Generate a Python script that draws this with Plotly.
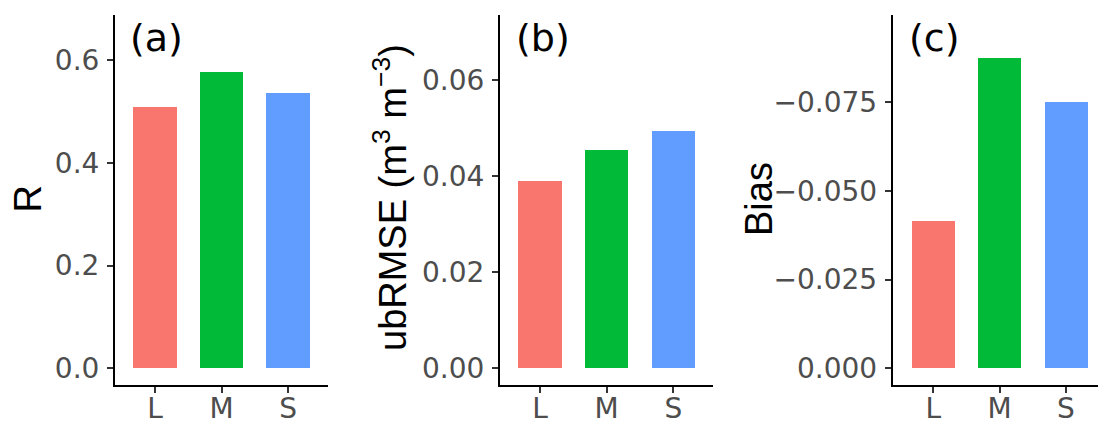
import plotly.graph_objects as go

categories = ["L", "M", "S"]
r_values = [0.509, 0.577, 0.535]
ubrmse_values = [0.0390, 0.0454, 0.0494]
bias_values = [-0.0414, -0.0874, -0.0752]
colors = ["#F8766D", "#00BA38", "#619CFF"]

r_ticks = [0.0, 0.2, 0.4, 0.6]
r_ticklabels = ["0.0", "0.2", "0.4", "0.6"]
ub_ticks = [0.00, 0.02, 0.04, 0.06]
ub_ticklabels = ["0.00", "0.02", "0.04", "0.06"]
bias_ticks = [0.0, -0.025, -0.050, -0.075]
bias_ticklabels = ["0.000", "\u22120.025", "\u22120.050", "\u22120.075"]

W, H = 1098, 424
FONT = "Liberation Sans, Arial, sans-serif"
WIDEFONT = "DejaVu Sans, Liberation Sans, sans-serif"
TICKFONT = dict(family=WIDEFONT, size=28, color="#4D4D4D")

fig = go.Figure()
panels = [
    ("x", "y", r_values),
    ("x2", "y2", ubrmse_values),
    ("x3", "y3", bias_values),
]
for xa, ya, vals in panels:
    fig.add_trace(go.Bar(x=categories, y=vals, marker=dict(color=colors, line=dict(width=0)),
                         width=0.65, xaxis=xa, yaxis=ya, showlegend=False))

ydom = [1 - 385 / H, 1 - 15 / H]
xcommon = dict(showline=True, linecolor="black", linewidth=2, ticks="outside", ticklen=6,
               tickwidth=1.5, tickcolor="#333333", tickfont=TICKFONT, showgrid=False,
               zeroline=False, type="category", fixedrange=True, automargin=False,
               ticklabelstandoff=-9)
ycommon = dict(showline=True, linecolor="black", linewidth=2, ticks="outside", ticklen=6,
               tickwidth=1.5, tickcolor="#333333", tickfont=TICKFONT, showgrid=False,
               zeroline=False, tickmode="array", domain=ydom, ticklabelstandoff=2,
               automargin=False)

fig.update_layout(
    width=W, height=H, margin=dict(l=0, r=0, t=0, b=0, autoexpand=False),
    paper_bgcolor="white", plot_bgcolor="white", bargap=0,
    xaxis=dict(domain=[115 / W, 328 / W], range=[-0.6, 2.6], anchor="y", **xcommon),
    xaxis2=dict(domain=[500 / W, 713.3 / W], range=[-0.6, 2.6], anchor="y2", **xcommon),
    xaxis3=dict(domain=[892.7 / W, 1.0], range=[-0.61, 2.482], anchor="y3", **xcommon),
    yaxis=dict(range=[-0.0325, 0.6876], tickvals=r_ticks, ticktext=r_ticklabels, anchor="x", **ycommon),
    yaxis2=dict(range=[-0.003475, 0.07353], tickvals=ub_ticks, ticktext=ub_ticklabels, anchor="x2", **ycommon),
    yaxis3=dict(range=[0.0047, -0.0996], tickvals=bias_ticks, ticktext=bias_ticklabels, anchor="x3", **ycommon),
)

def px(xp, yp):
    return xp / W, 1 - yp / H

annots = []
for text, (xp, yp) in [("(a)", (128, 38)), ("(b)", (514, 38)), ("(c)", (907, 38))]:
    x, y = px(xp, yp)
    annots.append(dict(text=text, x=x, y=y, xref="paper", yref="paper", xanchor="left",
                       yanchor="middle", showarrow=False, font=dict(family=WIDEFONT, size=38, color="black")))
for text, (xp, yp) in [("R", (27.5, 199)),
                       ("ubRMSE (m<sup>3</sup> m<sup>\u22123</sup>)", (390, 198)),
                       ("Bias", (759, 199))]:
    x, y = px(xp, yp)
    annots.append(dict(text=text, x=x, y=y, xref="paper", yref="paper", xanchor="center",
                       yanchor="middle", textangle=-90, showarrow=False,
                       font=dict(family=FONT, size=38, color="black")))
fig.update_layout(annotations=annots)

fig.write_html("out.html")
